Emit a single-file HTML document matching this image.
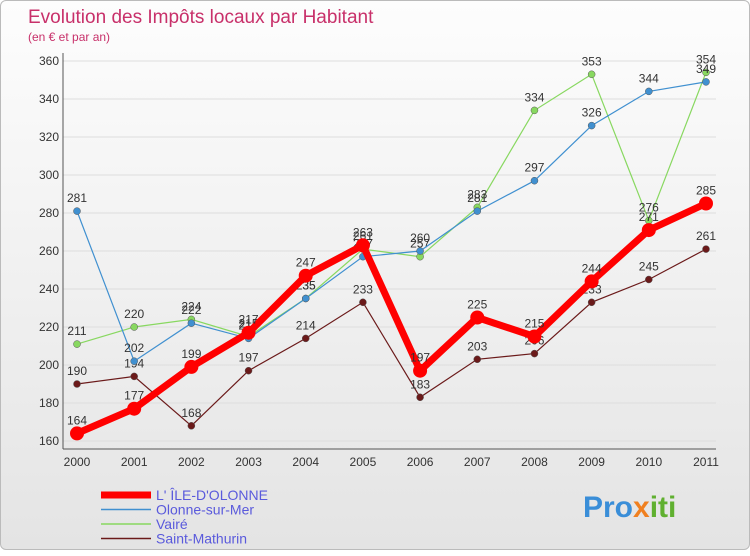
<!DOCTYPE html>
<html><head><meta charset="utf-8"><style>
body{margin:0;width:750px;height:550px;overflow:hidden;font-family:"Liberation Sans",sans-serif}
#wrap{position:absolute;left:0;top:0;width:748px;height:548px;border:1px solid #bbb;border-radius:6px;background:linear-gradient(#fdfdfd,#e4e4e4)}
</style></head><body>
<div id="wrap">
<svg width="750" height="550" id="chart">
<text x="27" y="22" font-size="19" fill="#c8306a">Evolution des Impôts locaux par Habitant</text>
<text x="27" y="40" font-size="12" fill="#c8306a">(en € et par an)</text>
<g id="axes"></g><g id="series"></g><g id="legend"></g>
<text x="582" y="516" font-size="30" font-weight="bold" fill="#3a8ed8">Pro<tspan fill="#f08020">x</tspan><tspan fill="#60b030">iti</tspan></text>
</svg></div>
<script>
const years=[2000,2001,2002,2003,2004,2005,2006,2007,2008,2009,2010,2011];
const yTicks=[160,180,200,220,240,260,280,300,320,340,360];
const ileOlonne=[164,177,199,217,247,263,197,225,215,244,271,285];
const olonneSurMer=[281,202,222,214,235,257,260,281,297,326,344,349];
const vaire=[211,220,224,215,235,261,257,283,334,353,276,354];
const saintMathurin=[190,194,168,197,214,233,183,203,206,233,245,261];
const seriesNames=["L' ÎLE-D'OLONNE","Olonne-sur-Mer","Vairé","Saint-Mathurin"];
const NS="http://www.w3.org/2000/svg";
const x0=76,x1=705,yTop=60,yBot=440,vMin=160,vMax=360;
const X=i=>x0+(x1-x0)*i/(years.length-1);
const Y=v=>yBot-(v-vMin)*(yBot-yTop)/(vMax-vMin);
function mk(t,a,p){const e=document.createElementNS(NS,t);for(const k in a)e.setAttribute(k,a[k]);p.appendChild(e);return e;}
const ax=document.getElementById('axes');
yTicks.forEach(v=>{
 const l=mk('line',{x1:62,x2:x1+10,y1:Y(v),y2:Y(v),stroke:'#ddd'},ax);
 
 
 const t=mk('text',{x:58,y:Y(v)+4,'font-size':12,fill:'#333','text-anchor':'end'},ax);t.textContent=v;
 
 
});
const ya=mk('line',{x1:62,x2:62,y1:52,y2:yBot+8,stroke:'#555'},ax);


const xa=mk('line',{x1:62,x2:x1+10,y1:yBot+8,y2:yBot+8,stroke:'#555'},ax);


years.forEach((y,i)=>{
 const t=mk('text',{x:X(i),y:yBot+25,'font-size':12,fill:'#333','text-anchor':'middle'},ax);t.textContent=y;
 
 
});
const defs=[[saintMathurin,'#6b1a1a',1.2,3.5],[vaire,'#88d860',1.2,3.5],[olonneSurMer,'#4090d0',1.2,3.5],[ileOlonne,'#ff0000',7,7]];
const sg=document.getElementById('series');
defs.forEach(([d,c,w,r],k)=>{
 const g=mk('g',{},sg);
 
 
 const p=mk('polyline',{points:d.map((v,i)=>X(i)+','+Y(v)).join(' '),fill:'none',stroke:c,'stroke-width':w},g);
 
 
 d.forEach((v,i)=>{
  const ci=mk('circle',{cx:X(i),cy:Y(v),r:r,fill:c,stroke:r<5?'#555':'none','stroke-width':0.5},g);
  
  
  const t=mk('text',{x:X(i),y:Y(v)-9,'font-size':12,fill:'#333','text-anchor':'middle'},g);t.textContent=v;
  
  
 });
});
const lg=document.getElementById('legend');
const lc=['#ff0000','#4090d0','#88d860','#6b1a1a'],lw=[7,1.5,1.5,1.5];
seriesNames.forEach((n,k)=>{
 const yy=494+k*14.5;
 const g=mk('g',{},lg);
 
 
 mk('line',{x1:100,x2:150,y1:yy,y2:yy,stroke:lc[k],'stroke-width':lw[k]},g);
 const t=mk('text',{x:155,y:yy+5,'font-size':14,fill:'#5a5adc'},g);t.textContent=n;
});
</script>
</body></html>
